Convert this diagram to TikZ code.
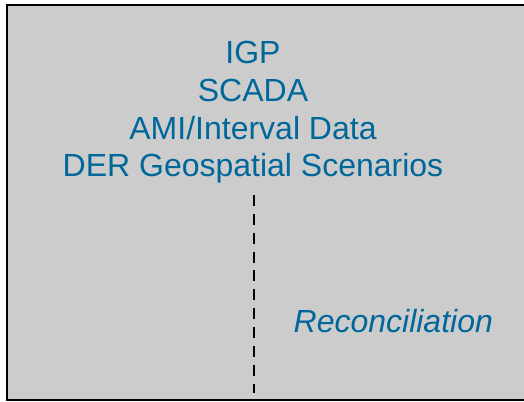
\documentclass[tikz,border=0pt]{standalone}
\usepackage{fontspec}
\setmainfont{Liberation Sans}
\definecolor{txtblue}{RGB}{0,103,155}
\definecolor{boxgray}{RGB}{204,204,204}

\begin{document}
\begin{tikzpicture}[x=0.75pt,y=-0.75pt,
  lbl/.style={text=txtblue,font=\fontsize{24}{28}\selectfont,inner sep=0pt,anchor=base}]
\useasboundingbox (0,0) rectangle (524,401);
\fill[boxgray] (7,4.5) rectangle (524,400);
\draw[line width=1.5pt] (524,4.5) -- (7,4.5) -- (7,400) -- (524,400);
\node[lbl] (igp) at (253,63.5) {IGP};
\node[lbl] (scada) at (253,101.5) {SCADA};
\node[lbl] (ami) at (253,139.2) {AMI/Interval Data};
\node[lbl] (der) at (253,176.8) {DER Geospatial Scenarios};
\node[lbl,font=\fontsize{24}{28}\selectfont\itshape] (rec) at (393.3,332.3) {Reconciliation};
\coordinate (dtop) at (253.5,195);
\coordinate (dbot) at (253.5,393);
\draw[line width=1.5pt,dash pattern=on 8.25pt off 5.9pt] (dtop) -- (dbot);
\end{tikzpicture}
\end{document}
